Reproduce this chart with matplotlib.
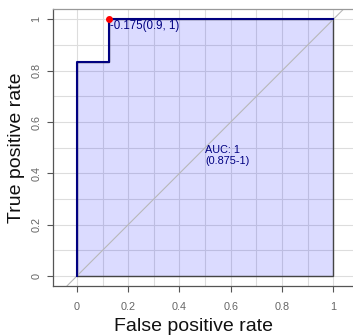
import matplotlib
matplotlib.use("Agg")
import matplotlib.pyplot as plt

plt.rcParams['font.family'] = ['Liberation Sans', 'DejaVu Sans']

# ROC curve points (false positive rate, true positive rate)
fpr = [0, 0, 0.125, 0.125, 1]
tpr = [0, 0.833, 0.833, 1, 1]

# best threshold
thr_x, thr_y = 0.125, 1
thr_label = "-0.175(0.9, 1)"
auc_label = "AUC: 1\n(0.875-1)"

ticks = [0, 0.2, 0.4, 0.6, 0.8, 1]
tick_labels = ["0", "0.2", "0.4", "0.6", "0.8", "1"]
grid_steps = [i / 10 for i in range(11)]

fig = plt.figure(figsize=(3.53, 3.35), dpi=100)
ax = fig.add_axes([0.151, 0.147, 0.86, 0.825])
ax.set_xlim(-0.092, 1.092)
ax.set_ylim(-0.038, 1.039)

# background grid
for g in grid_steps:
    ax.axvline(g, color='#dddddd', lw=0.8, zorder=0)
    ax.axhline(g, color='#dddddd', lw=0.8, zorder=0)

# shaded area under the curve
ax.fill(fpr + [1], tpr + [0], facecolor=(0, 0, 1, 0.14),
        edgecolor='#444444', lw=1.0, zorder=2)

# chance line
ax.axline((0, 0), (1, 1), color='#b8b8b8', lw=0.8, zorder=2.5)

ax.plot(fpr, tpr, color='#000080', lw=1.5, zorder=3)

ax.plot([thr_x], [thr_y], 'o', color='red', ms=4, zorder=4)
ax.text(thr_x + 0.004, thr_y - 0.004, thr_label, ha='left', va='top',
        fontsize=8.3, color='#000080', zorder=5)

ax.text(0.5, 0.51, auc_label, ha='left', va='top', fontsize=7.8,
        color='#000080', linespacing=1.15, zorder=5)

ax.set_xticks(ticks)
ax.set_xticklabels(tick_labels)
ax.set_yticks(ticks)
ax.set_yticklabels(tick_labels, rotation=90, va='center')
ax.tick_params(labelsize=7.8, colors='#555555', labelcolor='#666666',
               length=4.5, width=0.8, pad=7)
ax.tick_params(axis='y', pad=4)

for s in ax.spines.values():
    s.set_color('#555555')
    s.set_linewidth(0.9)
ax.spines['top'].set_color('#999999')

ax.set_xlabel("False positive rate", fontsize=14, color='#111111')
ax.xaxis.set_label_coords(0.463, -0.115)
ax.set_ylabel("True positive rate", fontsize=14, color='#111111', labelpad=5)

fig.savefig("out.png", dpi=100)
